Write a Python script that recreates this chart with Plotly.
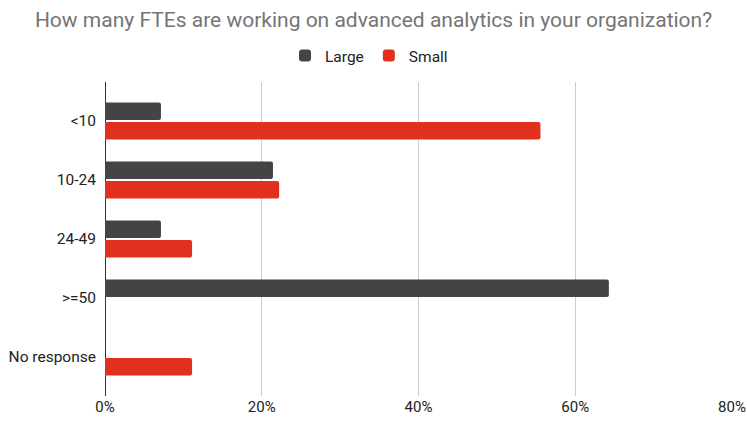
import plotly.graph_objects as go

categories = ["<10", "10-24", "24-49", ">=50", "No response"]
large = [0.0714, 0.2143, 0.0714, 0.6429, None]
small = [0.5556, 0.2222, 0.1111, None, 0.1111]
x_ticks = [0, 0.2, 0.4, 0.6, 0.8]
x_tick_labels = ["0%", "20%", "40%", "60%", "80%"]

fig = go.Figure()
fig.add_trace(go.Bar(y=categories, x=large, name="Large", orientation="h",
                     marker=dict(color="#444444", line=dict(width=0))))
fig.add_trace(go.Bar(y=categories, x=small, name="Small", orientation="h",
                     marker=dict(color="#E1311E", line=dict(width=0))))

fig.update_layout(
    width=747, height=421,
    margin=dict(l=105, r=15, t=82, b=25, autoexpand=False),
    paper_bgcolor="white", plot_bgcolor="white",
    font=dict(family="Roboto, Arial, sans-serif", size=15, color="#222222"),
    title=dict(text="How many FTEs are working on advanced analytics in your organization?",
               x=0.5, xanchor="center", y=1 - 20 / 421, yanchor="middle",
               font=dict(size=21, color="#757575")),
    legend=dict(orientation="h", xref="container", x=0.494, xanchor="center",
                y=1 + 26 / 314, yanchor="middle",
                font=dict(size=15.5, color="#222222"), traceorder="normal"),
    barmode="group", bargap=0.34, bargroupgap=0.1, barcornerradius=2,
    showlegend=True,
)
fig.update_xaxes(range=[0, 0.8], tickvals=x_ticks, ticktext=x_tick_labels,
                 showgrid=True, gridcolor="#CCCCCC", gridwidth=1,
                 zeroline=True, zerolinecolor="#333333", zerolinewidth=1,
                 showline=False, ticks="", automargin=False,
                 ticklabeloverflow="allow",
                 tickfont=dict(size=15, color="#222222"))
fig.update_yaxes(categoryorder="array", categoryarray=categories,
                 range=[4.66, -0.66], showgrid=False, zeroline=False,
                 showline=False, ticks="", ticklabelstandoff=8, automargin=False,
                 tickfont=dict(size=15.5, color="#222222"))

fig.write_html("out.html", config={"displayModeBar": False},
               post_script="document.body.style.margin='0';")
